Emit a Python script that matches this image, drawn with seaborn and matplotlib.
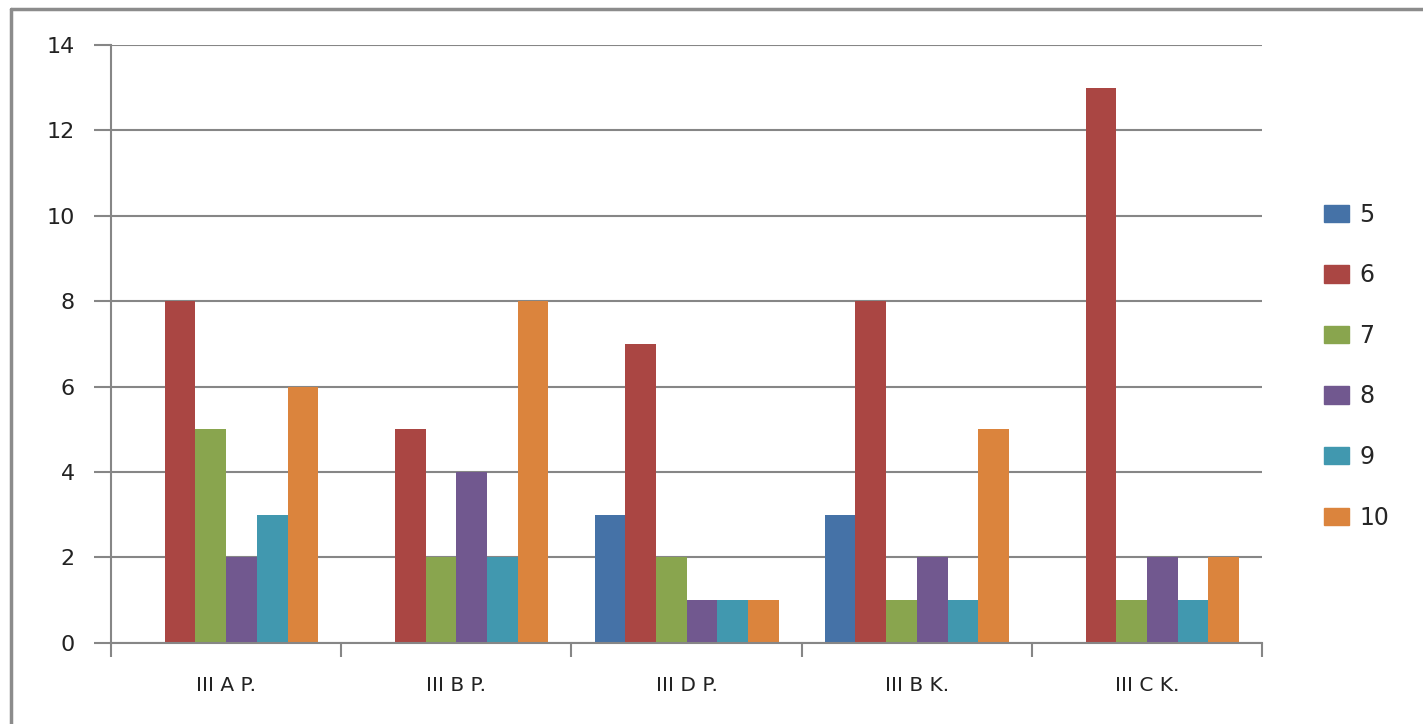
import matplotlib
matplotlib.use("Agg")
import matplotlib.pyplot as plt
import matplotlib.patches as mpatches
from matplotlib.lines import Line2D
import seaborn as sns
import pandas as pd

# data
classes = ["III A P.", "III B P.", "III D P.", "III B K.", "III C K."]
grades = ["5", "6", "7", "8", "9", "10"]
g5 = [0, 0, 3, 3, 0]
g6 = [8, 5, 7, 8, 13]
g7 = [5, 2, 2, 1, 1]
g8 = [2, 4, 1, 2, 2]
g9 = [3, 2, 1, 1, 1]
g10 = [6, 8, 1, 5, 2]
colors = ["#4572A7", "#AA4643", "#89A54E", "#71588F", "#4198AF", "#DB843D"]

rows = []
for grade, vals in zip(grades, [g5, g6, g7, g8, g9, g10]):
    for c, v in zip(classes, vals):
        rows.append({"class": c, "grade": grade, "count": v})
df = pd.DataFrame(rows)

sns.set_style("white")
plt.rcParams["font.family"] = ["DejaVu Sans"]

fig = plt.figure(figsize=(14.23, 7.24), dpi=100)
ax = fig.add_axes([0.078, 0.112, 0.809, 0.826])

sns.barplot(data=df, x="class", y="count", hue="grade", hue_order=grades,
            palette=colors, width=0.8, gap=0, saturation=1, ax=ax,
            edgecolor="none", err_kws={"linewidth": 0})

ax.set_ylim(0, 14)
ax.set_xlim(-0.5, len(classes) - 0.5)
ax.set_yticks(range(0, 15, 2))
ax.yaxis.grid(True, color="#868686", linewidth=1.5)
ax.set_axisbelow(True)
ax.set_xlabel("")
ax.set_ylabel("")

for s in ["top", "right"]:
    ax.spines[s].set_visible(False)
for s in ["left", "bottom"]:
    ax.spines[s].set_color("#868686")
    ax.spines[s].set_linewidth(1.5)

# x ticks sit between the groups, labels at group centres
ax.set_xticks([i - 0.5 for i in range(len(classes) + 1)], minor=False)
ax.set_xticklabels([""] * (len(classes) + 1))
ax.set_xticks(range(len(classes)), minor=True)
ax.set_xticklabels(classes, minor=True, fontsize=14.5, color="#222222")
ax.tick_params(axis="x", which="major", direction="out", length=10, width=1.5,
               color="#868686", bottom=True)
ax.tick_params(axis="x", which="minor", length=0, pad=24)
ax.tick_params(axis="y", direction="out", length=12, width=1.5, color="#868686",
               left=True, labelsize=16, pad=14, labelcolor="#222222")

handles = [mpatches.Patch(color=c, label=g) for c, g in zip(colors, grades)]
ax.legend(handles=handles, loc="center left", bbox_to_anchor=(1.035, 0.463),
          frameon=False, fontsize=17, labelspacing=1.55, handlelength=1.05,
          handleheight=0.75, handletextpad=0.45)

# chart-area border: only top and left edges are visible in the crop
fig.add_artist(Line2D([0.0075, 1.0], [0.9875, 0.9875], transform=fig.transFigure,
                      color="#8c8c8c", linewidth=2.5))
fig.add_artist(Line2D([0.0075, 0.0075], [0.0, 0.9875], transform=fig.transFigure,
                      color="#8c8c8c", linewidth=2.5))

fig.savefig("out.png", dpi=100)
